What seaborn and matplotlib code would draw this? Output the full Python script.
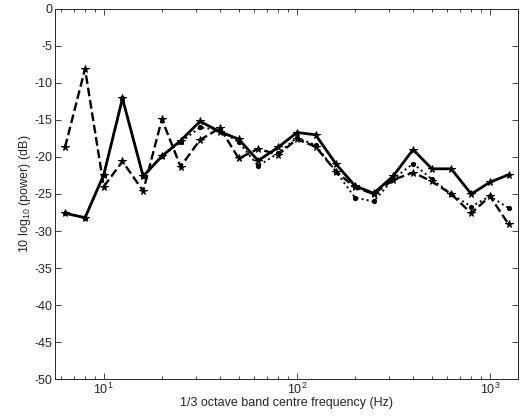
import numpy as np
import pandas as pd
import matplotlib
matplotlib.use("Agg")
import matplotlib.pyplot as plt
from matplotlib.ticker import LogLocator, FixedLocator, NullFormatter
import seaborn as sns

sns.set_style("ticks")
plt.rcParams['font.family'] = ['Liberation Sans', 'DejaVu Sans']
plt.rcParams['mathtext.fontset'] = 'custom'
plt.rcParams['mathtext.rm'] = 'Liberation Sans'
plt.rcParams['axes.unicode_minus'] = False

# 1/3 octave band centre frequencies (Hz)
freqs = [6.3, 8, 10, 12.5, 16, 20, 25, 31.5, 40, 50, 63, 80,
         100, 125, 160, 200, 250, 315, 400, 500, 630, 800, 1000, 1250]

# power in dB
solid = [-27.6, -28.2, -22.4, -12.1, -22.6, -19.9, -17.8, -15.2, -16.6, -17.6, -20.5, -18.7,
         -16.7, -17.0, -21.0, -23.9, -24.9, -22.6, -19.0, -21.6, -21.6, -25.0, -23.4, -22.4]
dashed = [-18.7, -8.1, -24.0, -20.6, -24.6, -14.9, -21.3, -17.7, -16.1, -20.2, -18.9, -19.7,
          -17.6, -18.6, -22.0, -24.1, -25.0, -23.1, -22.1, -23.3, -25.0, -27.6, -25.3, -29.1]
dotted = [-27.6, -28.2, -22.4, -12.1, -22.6, -19.9, -18.0, -16.0, -16.4, -18.0, -21.2, -19.5,
          -17.4, -18.4, -22.0, -25.5, -26.0, -23.0, -20.9, -23.0, -25.0, -26.7, -25.3, -26.9]

df = pd.DataFrame({'freq': freqs, 'solid': solid, 'dashed': dashed, 'dotted': dotted})

fig = plt.figure(figsize=(5.25, 4.19), dpi=100)
ax = fig.add_axes([0.105, 0.095, 0.882, 0.884])

sns.lineplot(data=df, x='freq', y='dotted', ax=ax, color='black', linestyle=':',
             linewidth=1.4, marker='.', markersize=6, markeredgecolor='black')
sns.lineplot(data=df, x='freq', y='dashed', ax=ax, color='black', linestyle='--',
             linewidth=1.7, marker='*', markersize=5.5, markeredgecolor='black')
sns.lineplot(data=df, x='freq', y='solid', ax=ax, color='black', linestyle='-',
             linewidth=2.0, marker='*', markersize=5.5, markeredgecolor='black')

ax.set_xscale('log')
ax.set_xlim(5.6, 1400)
ax.set_ylim(-50, 0)
ax.yaxis.set_major_locator(FixedLocator(np.arange(-50, 1, 5)))
ax.xaxis.set_major_locator(LogLocator(base=10))
ax.xaxis.set_minor_locator(LogLocator(base=10, subs=np.arange(2, 10)))
ax.xaxis.set_minor_formatter(NullFormatter())

ax.tick_params(which='both', direction='in', top=True, right=True, labelsize=9, width=0.6, pad=2)
ax.tick_params(which='major', length=4)
ax.tick_params(which='minor', length=2)
for s in ax.spines.values():
    s.set_linewidth(0.7)

ax.set_xlabel('1/3 octave band centre frequency (Hz)', fontsize=9, labelpad=0)
ax.set_ylabel(r'10 log$_{10}$ (power) (dB)', fontsize=9, labelpad=1)

fig.savefig('out.png', dpi=100)
